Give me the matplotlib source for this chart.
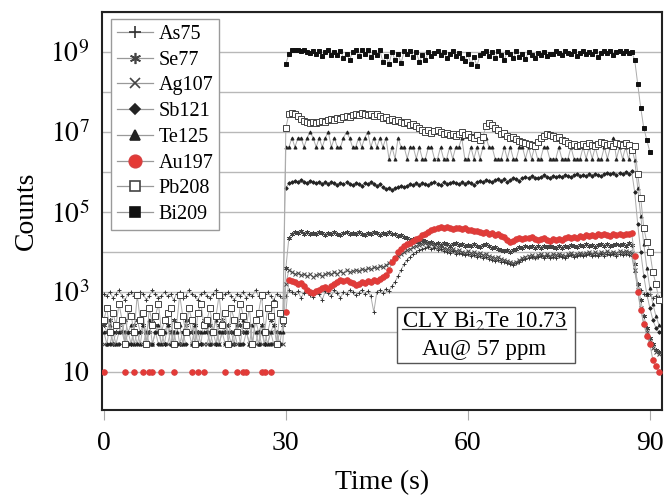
import matplotlib.pyplot as plt
import numpy as np
from matplotlib.lines import Line2D
from matplotlib.patches import Rectangle

nan = np.nan
dt = 0.5  # seconds per sweep

# log10(counts), one value per sweep (0 - 91.5 s); nan = zero counts
as75 = [
    2.95, 2.90, 3.00, 2.85, 2.95, 3.05, 2.90, 2.80, 2.95, 3.00,
    2.90, 2.85, 3.00, 2.95, 2.80, 2.90, 3.05, 2.95, 2.85, 2.90,
    3.00, 2.90, 2.95, 2.80, 2.95, 3.00, 2.85, 2.90, 3.05, 2.95,
    2.90, 2.80, 2.95, 3.00, 2.90, 2.85, 2.95, 3.05, 2.90, 2.85,
    2.95, 3.00, 2.90, 2.80, 2.95, 2.90, 3.00, 2.85, 2.95, 2.90,
    3.05, 2.90, 2.85, 2.95, 3.00, 2.90, 2.80, 2.95, 2.90, 2.85,
    2.90, 3.05, 3.00, 2.95, 3.02, 2.85, 2.98, 3.05, 2.92, 2.88,
    3.00, 2.95, 2.80, 3.02, 2.97, 2.90, 3.05, 2.98, 2.85, 3.00,
    2.95, 3.05, 3.00, 2.92, 2.98, 3.05, 2.95, 3.02, 2.90, 2.50,
    3.00, 3.05, 2.98, 3.08, 3.02, 3.15, 3.25, 3.40, 3.55, 3.70,
    3.80, 3.88, 3.95, 4.00, 4.05, 4.08, 4.10, 4.12, 4.08, 4.10,
    4.05, 4.08, 4.02, 4.00, 3.98, 4.02, 3.96, 3.98, 3.94, 3.92,
    3.95, 3.90, 3.93, 3.88, 3.90, 3.85, 3.88, 3.82, 3.80, 3.78,
    3.80, 3.76, 3.74, 3.72, 3.70, 3.68, 3.72, 3.76, 3.80, 3.82,
    3.85, 3.88, 3.84, 3.87, 3.90, 3.86, 3.89, 3.85, 3.88, 3.86,
    3.90, 3.87, 3.85, 3.89, 3.92, 3.88, 3.90, 3.93, 3.89, 3.92,
    3.95, 3.90, 3.93, 3.89, 3.94, 3.91, 3.96, 3.92, 3.95, 3.90,
    3.94, 3.92, 3.96, 3.93, 3.90,
    3.50, 3.20, 3.05, 2.95, 2.90, 2.95, 2.85, 2.90, 2.88,
]
se77 = [
    2.18, 2.00, 2.30, 1.70, 2.00, 2.18, 2.00, 2.30, 2.00, 1.70,
    2.18, 2.30, 2.00, 2.18, 1.70, 2.00, 2.30, 2.18, 2.00, 2.00,
    1.70, 2.18, 2.00, 2.30, 2.18, 1.70, 2.00, 2.18, 2.30, 2.00,
    2.18, 2.00, 1.70, 2.30, 2.00, 2.18, 2.00, 1.70, 2.18, 2.30,
    2.00, 2.18, 2.00, 1.70, 2.30, 2.18, 2.00, 2.00, 2.18, 1.70,
    2.30, 2.00, 2.18, 1.70, 2.00, 2.30, 2.18, 2.00, 1.70, 2.18,
    3.60, 4.35, 4.45, 4.50, 4.48, 4.52, 4.46, 4.50, 4.44, 4.48,
    4.45, 4.50, 4.47, 4.43, 4.48, 4.45, 4.50, 4.46, 4.42, 4.47,
    4.50, 4.45, 4.48, 4.44, 4.50, 4.46, 4.42, 4.48, 4.45, 4.50,
    4.47, 4.43, 4.48, 4.45, 4.50, 4.46, 4.44, 4.40, 4.42, 4.38,
    4.35, 4.30, 4.32, 4.28, 4.25, 4.30, 4.27, 4.22, 4.25, 4.20,
    4.23, 4.18, 4.22, 4.20, 4.15, 4.19, 4.22, 4.17, 4.20, 4.15,
    4.18, 4.14, 4.20, 4.16, 4.12, 4.17, 4.20, 4.15, 4.10, 4.12,
    4.08, 4.05, 4.02, 4.06, 4.00, 4.04, 4.08, 4.12, 4.10, 4.15,
    4.12, 4.16, 4.10, 4.14, 4.11, 4.15, 4.12, 4.16, 4.13, 4.10,
    4.14, 4.11, 4.16, 4.13, 4.18, 4.14, 4.12, 4.17, 4.14, 4.19,
    4.15, 4.18, 4.13, 4.17, 4.20, 4.16, 4.19, 4.15, 4.18, 4.21,
    4.17, 4.20, 4.16, 4.22, 4.18,
    3.70, 3.20, 2.80, 2.40, 2.10, 1.85, 1.70, 1.55, 1.50,
]
ag107 = [
    1.70, nan, 2.00, 1.70, 1.70, nan, 2.00, 1.70, nan, 1.70,
    2.00, 1.70, nan, 1.70, 2.00, 1.70, 1.70, nan, 2.00, 1.70,
    nan, 1.70, 2.00, 1.70, nan, 1.70, 1.70, 2.00, nan, 1.70,
    1.70, 2.00, nan, 1.70, 1.70, 2.00, 1.70, nan, 1.70, 2.00,
    1.70, nan, 1.70, 2.00, 1.70, 1.70, nan, 2.00, 1.70, nan,
    1.70, 2.00, 1.70, nan, 1.70, 2.00, 1.70, 1.70, nan, 1.70,
    3.20, 3.55, 3.50, 3.45, 3.48, 3.42, 3.45, 3.40, 3.44, 3.38,
    3.42, 3.46, 3.40, 3.45, 3.48, 3.44, 3.50, 3.46, 3.52, 3.48,
    3.55, 3.50, 3.53, 3.56, 3.52, 3.58, 3.55, 3.60, 3.57, 3.62,
    3.60, 3.65, 3.62, 3.68, 3.72, 3.78, 3.85, 3.90, 3.95, 4.00,
    4.05, 4.08, 4.12, 4.15, 4.18, 4.20, 4.22, 4.18, 4.20, 4.16,
    4.12, 4.15, 4.10, 4.08, 4.05, 4.08, 4.02, 4.05, 4.00, 3.98,
    4.02, 3.98, 4.00, 3.95, 3.98, 3.92, 3.96, 3.90, 3.88, 3.85,
    3.88, 3.82, 3.80, 3.78, 3.75, 3.72, 3.76, 3.80, 3.85, 3.88,
    3.90, 3.93, 3.88, 3.92, 3.95, 3.90, 3.94, 3.91, 3.95, 3.92,
    3.96, 3.93, 3.90, 3.94, 3.97, 3.92, 3.95, 3.98, 3.94, 3.97,
    4.00, 3.96, 3.99, 3.95, 4.00, 3.97, 4.02, 3.98, 4.01, 3.97,
    4.02, 3.99, 4.03, 4.00, 3.98,
    3.55, 3.05, 2.60, 2.20, 2.00, 1.75, 1.60, 1.50, 1.45,
]
sb121 = [
    nan, 1.70, 1.70, 2.00, nan, 1.70, nan, 2.00, 1.70, 1.70,
    nan, 1.70, 2.00, nan, 1.70, nan, 1.70, 2.00, 1.70, nan,
    1.70, nan, 1.70, 2.00, 1.70, nan, 2.00, 1.70, nan, 1.70,
    2.00, nan, 1.70, nan, 2.00, 1.70, nan, 1.70, 2.00, nan,
    1.70, 1.70, nan, 2.00, nan, 1.70, 1.70, 2.00, nan, 1.70,
    nan, 1.70, 2.00, 1.70, nan, 1.70, nan, 2.00, 1.70, nan,
    5.60, 5.72, 5.75, 5.78, 5.74, 5.80, 5.76, 5.73, 5.78, 5.75,
    5.72, 5.76, 5.70, 5.74, 5.71, 5.75, 5.72, 5.68, 5.73, 5.70,
    5.74, 5.71, 5.68, 5.72, 5.70, 5.66, 5.72, 5.69, 5.75, 5.70,
    5.64, 5.70, 5.62, 5.58, 5.60, 5.55, 5.60, 5.62, 5.65, 5.62,
    5.66, 5.70, 5.67, 5.72, 5.68, 5.73, 5.70, 5.68, 5.72, 5.75,
    5.71, 5.68, 5.74, 5.70, 5.73, 5.76, 5.72, 5.69, 5.74, 5.70,
    5.76, 5.72, 5.68, 5.74, 5.78, 5.75, 5.80, 5.77, 5.74, 5.80,
    5.83, 5.78, 5.82, 5.76, 5.80, 5.85, 5.82, 5.78, 5.84, 5.88,
    5.85, 5.90, 5.86, 5.84, 5.88, 5.92, 5.88, 5.86, 5.90, 5.87,
    5.91, 5.88, 5.93, 5.90, 5.87, 5.92, 5.95, 5.90, 5.93, 5.89,
    5.94, 5.91, 5.96, 5.93, 5.90, 5.95, 5.98, 5.94, 5.97, 5.92,
    5.98, 5.95, 6.00, 5.96, 6.02,
    5.50, 4.70, 4.00, 3.40, 2.95, 2.60, 2.30, 2.10, 2.00,
]
te125 = [
    2.00, 1.70, 2.18, 2.00, 1.70, 2.00, 2.30, 1.70, 2.00, 2.18,
    1.70, 2.00, 1.70, 2.18, 2.00, 2.30, 1.70, 2.00, 2.18, 1.70,
    2.00, 2.18, 1.70, 2.00, 2.00, 2.18, 1.70, 2.30, 2.00, 1.70,
    2.18, 1.70, 2.00, 2.00, 2.18, 1.70, 2.00, 2.30, 1.70, 2.00,
    2.18, 2.00, 1.70, 2.00, 2.18, 1.70, 2.30, 2.00, 1.70, 2.18,
    2.00, 1.70, 2.18, 2.00, 1.70, 2.00, 2.18, 1.70, 2.00, 2.00,
    6.62, 6.62, 6.85, 6.62, 6.85, 6.85, 6.62, 6.85, 7.00, 6.85,
    6.62, 6.85, 6.62, 6.85, 7.00, 6.62, 6.85, 6.62, 6.62, 6.85,
    7.00, 6.85, 6.62, 6.62, 6.85, 6.62, 6.85, 7.00, 6.62, 6.85,
    6.62, 6.85, 6.62, 6.85, 6.33, 6.62, 6.33, 6.85, 6.62, 6.62,
    6.33, 6.62, 6.62, 6.33, 6.62, 6.33, 6.33, 6.62, 6.62, 6.33,
    6.33, 6.62, 6.33, 6.33, 6.62, 6.33, 6.62, 6.62, 6.85, 6.33,
    6.33, 6.62, 6.33, 6.62, 6.33, 6.62, 6.85, 6.62, 6.62, 6.33,
    6.33, 6.33, 6.62, 6.33, 6.62, 6.33, 6.33, 6.62, 6.62, 6.33,
    6.62, 6.33, 6.62, 6.33, 6.33, 6.62, 6.62, 6.33, 6.33, 6.33,
    6.62, 6.33, 6.33, 6.33, 6.62, 6.33, 6.33, 6.33, 6.62, 6.33,
    6.62, 6.33, 6.62, 6.33, 6.33, 6.62, 6.33, 6.62, 6.85, 6.33,
    6.62, 6.33, 6.62, 6.33, 6.62,
    6.30, 5.60, 4.90, 4.20, 3.60, 3.10, 2.70, 2.40, 2.18,
]
au197 = [
    1.00, nan, nan, nan, nan, nan, nan, 1.00, nan, nan,
    1.00, nan, nan, 1.00, nan, 1.00, 1.00, nan, nan, 1.00,
    nan, nan, nan, 1.00, nan, nan, nan, nan, nan, 1.00,
    nan, 1.00, nan, 1.00, nan, nan, nan, nan, nan, nan,
    1.00, nan, nan, nan, 1.00, nan, 1.00, 1.00, nan, nan,
    nan, nan, 1.00, 1.00, nan, 1.00, nan, nan, nan, nan,
    2.50, 3.30, 3.28, 3.25, 3.20, 3.22, 3.15, 3.05, 3.00, 2.98,
    3.02, 3.05, 3.10, 3.12, 3.08, 3.15, 3.20, 3.25, 3.30, 3.28,
    3.30, 3.25, 3.22, 3.18, 3.20, 3.25, 3.22, 3.28, 3.25, 3.30,
    3.28, 3.32, 3.38, 3.42, 3.55, 3.75, 3.85, 4.00, 4.08, 4.15,
    4.20, 4.22, 4.28, 4.32, 4.35, 4.42, 4.45, 4.50, 4.55, 4.58,
    4.60, 4.62, 4.60, 4.63, 4.60, 4.58, 4.61, 4.60, 4.57, 4.59,
    4.55, 4.56, 4.52, 4.53, 4.50, 4.48, 4.50, 4.46, 4.47, 4.43,
    4.45, 4.40, 4.38, 4.30, 4.25, 4.28, 4.32, 4.35, 4.33, 4.36,
    4.35, 4.37, 4.33, 4.30, 4.32, 4.35, 4.30, 4.28, 4.32, 4.30,
    4.33, 4.30, 4.34, 4.37, 4.35, 4.38, 4.36, 4.40, 4.38, 4.42,
    4.40, 4.43, 4.41, 4.44, 4.42, 4.45, 4.43, 4.41, 4.44, 4.43,
    4.45, 4.43, 4.46, 4.44, 4.47,
    3.90, 3.00, 2.55, 2.20, 1.90, 1.70, 1.30, 1.15, 1.00,
]
pb208 = [
    2.30, 2.60, 2.00, 2.48, 2.18, 2.70, 2.30, 1.70, 2.60, 2.40,
    2.00, 2.93, 2.30, 2.48, 1.70, 2.60, 2.18, 2.40, 2.70, 2.00,
    2.30, 2.48, 2.60, 1.70, 2.18, 2.93, 2.40, 2.00, 2.60, 2.30,
    1.70, 2.48, 2.70, 2.18, 2.30, 2.60, 2.00, 2.40, 2.93, 2.18,
    2.48, 1.70, 2.60, 2.30, 2.00, 2.70, 2.40, 2.18, 2.60, 1.70,
    2.30, 2.48, 2.93, 2.00, 2.60, 2.40, 2.70, 1.70, 2.48, 2.30,
    7.10, 7.45, 7.48, 7.45, 7.40, 7.32, 7.28, 7.25, 7.22, 7.25,
    7.22, 7.25, 7.28, 7.25, 7.30, 7.32, 7.30, 7.35, 7.33, 7.38,
    7.40, 7.38, 7.42, 7.45, 7.43, 7.47, 7.45, 7.42, 7.45, 7.40,
    7.44, 7.40, 7.35, 7.38, 7.30, 7.32, 7.28, 7.30, 7.25, 7.22,
    7.25, 7.18, 7.20, 7.15, 7.10, 7.05, 7.00, 7.05, 6.98, 7.02,
    7.05, 7.00, 6.95, 6.98, 6.93, 6.95, 6.90, 6.95, 7.00, 6.92,
    6.95, 6.88, 6.85, 6.92, 6.80, 6.88, 7.15, 7.22, 7.18, 7.10,
    7.05, 6.95, 6.98, 6.90, 6.85, 6.88, 6.82, 6.78, 6.75, 6.72,
    6.70, 6.68, 6.65, 6.75, 6.85, 6.90, 6.95, 6.92, 6.90, 6.85,
    6.88, 6.80, 6.78, 6.72, 6.68, 6.70, 6.65, 6.68, 6.70, 6.65,
    6.72, 6.68, 6.65, 6.70, 6.75, 6.72, 6.68, 6.70, 6.66, 6.72,
    6.70, 6.68, 6.72, 6.68, 6.55,
    6.65, 5.95, 5.35, 4.60, 4.25, 4.00, 3.50, 3.20, 2.80,
]
bi209 = [
    nan, nan, nan, nan, nan, nan, nan, nan, nan, nan,
    nan, nan, nan, nan, nan, nan, nan, nan, nan, nan,
    nan, nan, nan, nan, nan, nan, nan, nan, nan, nan,
    nan, nan, nan, nan, nan, nan, nan, nan, nan, nan,
    nan, nan, nan, nan, nan, nan, nan, nan, nan, nan,
    nan, nan, nan, nan, nan, nan, nan, nan, nan, nan,
    8.70, 8.95, 9.05, 9.05, 9.05, 9.02, 9.05, 9.00, 8.97, 9.03,
    8.95, 9.02, 8.90, 9.00, 9.04, 8.93, 9.00, 8.92, 9.03, 8.85,
    8.95, 8.80, 9.00, 9.04, 8.90, 9.04, 8.95, 9.04, 8.88, 9.00,
    8.93, 9.04, 8.75, 8.90, 8.70, 9.00, 8.80, 8.95, 8.72, 9.02,
    8.95, 9.03, 8.88, 9.00, 8.75, 8.92, 8.80, 9.00, 8.90, 8.97,
    9.02, 8.93, 9.00, 8.85, 8.95, 9.03, 8.90, 8.98, 8.85, 8.78,
    8.95, 8.70, 8.88, 8.65, 8.92, 8.98, 9.03, 8.90, 9.00, 8.85,
    9.02, 8.93, 8.80, 9.00, 8.95, 8.85, 9.02, 8.88, 8.96, 8.82,
    9.00, 8.92, 8.85, 8.98, 8.93, 9.00, 8.90, 8.95, 8.96, 9.02,
    8.97, 8.92, 9.03, 8.98, 8.95, 9.02, 8.90, 8.98, 9.03, 8.95,
    9.00, 8.95, 9.03, 8.88, 8.98, 9.02, 8.97, 9.03, 8.92, 9.00,
    9.03, 8.98, 9.02, 8.97, 9.00,
    8.80, 8.20, 7.60, 7.10, 6.80, 6.50, nan, nan, nan,
]

labels = ["As75", "Se77", "Ag107", "Sb121", "Te125", "Au197", "Pb208", "Bi209"]
data = [as75, se77, ag107, sb121, te125, au197, pb208, bi209]

red = "#e53935"
# marker, size, face, edge, legend size
styles = [
    ("+", 3.5, "#333333", "#333333", 9),
    ((6, 2, 0), 3.3, "#444444", "#444444", 8),
    ("x", 3.0, "#444444", "#444444", 7),
    ("D", 1.8, "#222222", "#222222", 5),
    ("^", 2.2, "#222222", "#222222", 6.5),
    ("o", 4.0, red, "#d84040", 9),
    ("s", 4.0, "white", "#444444", 7.5),
    ("s", 2.8, "#111111", "#111111", 6.5),
]

plt.rcParams["font.family"] = ["Liberation Serif", "DejaVu Serif"]
plt.rcParams["mathtext.fontset"] = "stix"

fig = plt.figure(figsize=(6.69, 4.97), dpi=100)
ax = fig.add_axes([0.1525, 0.175, 0.837, 0.801])

handles = []
for lab, vals, (m, ms, fc, ec, lms) in zip(labels, data, styles):
    y = 10 ** np.array(vals, dtype=float)
    t = dt * np.arange(len(y))
    ax.plot(t, y, color="#ababab", lw=0.7, marker=m, ms=ms, mfc=fc, mec=ec,
            mew=0.7, zorder=3)
    handles.append(Line2D([], [], color="#999999", lw=0.9, marker=m, ms=lms,
                          mfc=fc, mec=ec, mew=1.2, label=lab))

ax.set_yscale("log")
ax.set_yticks([10.0 ** k for k in range(0, 11)])
ax.set_yticklabels(["", "$10$", "", "$10^3$", "", "$10^5$", "", "$10^7$", "",
                    "$10^9$", ""])
ax.minorticks_off()
ax.set_ylim(1.12, 1e10)
ax.set_xlim(-0.3, 92)
ax.set_xticks([0, 30, 60, 90])
ax.grid(axis="y", color="#b8b8b8", lw=1.0, zorder=0)
ax.tick_params(axis="y", length=0, pad=9, labelsize=20)
ax.tick_params(axis="x", length=7, width=0.8, color="#aaaaaa", pad=8,
               labelsize=20)
for s in ax.spines.values():
    s.set_linewidth(1.5)
    s.set_color("#222222")

ax.set_ylabel("Counts", fontsize=20, labelpad=8)
ax.set_xlabel("Time (s)", fontsize=20, labelpad=10)

leg = ax.legend(handles=handles, loc="upper left", bbox_to_anchor=(0.016, 0.983),
                borderaxespad=0, fancybox=False, framealpha=1, edgecolor="#9a9a9a",
                fontsize=14.5, handlelength=1.8, handletextpad=0.25,
                labelspacing=0.33, borderpad=0.3)
leg.get_frame().set_linewidth(1.0)
leg.set_zorder(10)

# sample label box
ax.add_patch(Rectangle((0.527, 0.118), 0.318, 0.141, transform=ax.transAxes,
                       fc="white", ec="#555555", lw=1.0, zorder=6))
t1 = ax.text(0.682, 0.2085, "CLY Bi$_2$Te 10.73", transform=ax.transAxes,
             ha="center", va="baseline", fontsize=16.5, zorder=7)
ax.text(0.682, 0.138, "Au@ 57 ppm", transform=ax.transAxes, ha="center",
        va="baseline", fontsize=16.5, zorder=7)
fig.canvas.draw()
bb = t1.get_window_extent().transformed(ax.transAxes.inverted())
ax.add_line(Line2D([bb.x0, bb.x1], [0.2045, 0.2045], transform=ax.transAxes,
                   color="#333333", lw=0.9, zorder=7))

fig.savefig("out.png", dpi=100)
